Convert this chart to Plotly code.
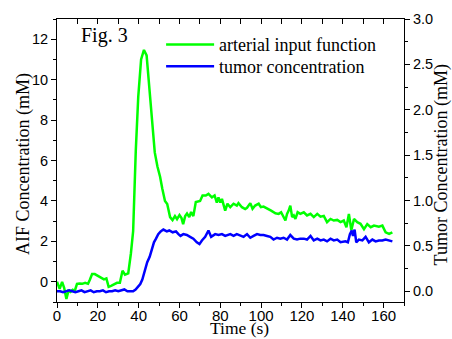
import plotly.graph_objects as go

# ---- data ----
t_aif = [0, 1.3, 2.5, 3.5, 4.6, 5.6, 6.6, 7.7, 8.7, 9.8, 11.0, 12.4, 13.8, 15.2, 16.1, 17.2, 18.5,
         19.5, 20.6, 21.8, 23.0, 24.2, 25.3, 26.5, 28.0, 29.4, 30.8, 32.1, 33.3, 34.9, 36.2, 37.3,
         38.6, 39.8, 41.2, 42.6, 43.9, 45.2, 46.5, 47.9, 49.2, 50.5, 51.6, 52.9, 54.0, 55.4, 56.6,
         57.8, 58.8, 60.0, 61.0, 61.8, 62.8, 63.7, 64.8, 65.7, 66.8, 68.0, 70.1, 71.3, 72.9, 74.2,
         75.9, 77.2, 78.3, 79.1, 80.0, 80.8, 82.4, 83.5, 84.9, 86.5, 88.1, 88.9, 90.6, 92.2, 93.1,
         94.7, 95.8, 97.1, 98.8, 99.9, 101.2, 102.9, 104.9, 107.0, 108.6, 109.8, 110.8, 111.9,
         112.7, 113.5, 114.3, 115.2, 116.0, 116.8, 117.9, 119.2, 120.9, 122.5, 124.2, 125.8,
         127.5, 129.1, 130.7, 132.3, 134.0, 135.6, 137.3, 138.9, 140.5, 141.8, 143.0, 144.2,
         145.5, 147.1, 148.7, 150.4, 152.0, 153.7, 155.3, 157.7, 159.4, 161.0, 162.7, 164.3]
aif = [0.0, -0.35, 0.0, -0.3, -0.85, -0.45, -0.5, -0.4, -0.45, -0.1, -0.08, -0.1, -0.05, -0.1,
       0.1, 0.38, 0.38, 0.33, 0.25, 0.2, 0.12, 0.17, -0.25, -0.2, -0.1, -0.05, -0.05, 0.55, 0.35,
       0.42, 1.4, 2.5, 6.5, 9.15, 11.0, 11.47, 11.2, 9.6, 8.0, 6.4, 5.7, 5.2, 4.6, 4.0, 3.85, 3.2,
       3.05, 3.25, 3.1, 3.3, 3.15, 2.85, 3.25, 3.38, 3.2, 3.45, 3.25, 3.95, 4.0, 4.27, 4.27, 4.35,
       4.18, 4.27, 3.92, 4.18, 3.92, 4.1, 3.52, 3.86, 3.69, 3.86, 3.77, 3.89, 3.69, 3.6, 3.66,
       3.89, 3.61, 3.77, 3.86, 3.69, 3.72, 3.61, 3.52, 3.39, 3.36, 3.44, 3.2, 3.03, 3.36, 3.52,
       3.77, 3.2, 3.28, 3.11, 3.44, 3.36, 3.44, 3.28, 3.36, 3.2, 3.36, 3.22, 3.26, 2.95, 3.11,
       3.03, 3.06, 2.95, 3.03, 2.7, 3.36, 2.55, 3.11, 2.95, 2.87, 2.6, 2.85, 2.7, 2.78, 2.73,
       2.78, 2.45, 2.37, 2.45]

t_tum = [0, 1.5, 3, 4.5, 6, 7.5, 9, 10.5, 12, 13.5, 15, 16.5, 18, 19.5, 21, 22.5, 24, 25.5, 27,
         28.5, 30, 31.5, 33, 34.5, 36, 37.3, 38.5, 39.8, 40.8, 41.8, 43.0, 44.2, 45.4, 46.4, 47.5,
         48.5, 49.6, 50.8, 52.1, 53.8, 55.0, 56.7, 58.3, 59.5, 60.5, 61.9, 63.6, 65.2, 66.8, 68.5,
         69.8, 71.0, 72.6, 74.2, 75.5, 77.5, 79.1, 80.8, 82.4, 84.9, 86.5, 88.1, 89.8, 91.4, 93.1,
         94.7, 96.3, 98.0, 99.6, 101.2, 102.9, 104.5, 106.1, 107.8, 109.4, 111.0, 112.7, 114.3,
         116.0, 117.6, 119.2, 120.9, 122.5, 124.2, 125.8, 127.5, 129.1, 130.7, 132.3, 134.0,
         135.6, 137.3, 138.9, 141.3, 142.5, 143.5, 144.4, 145.0, 145.8, 146.6, 147.9, 149.6,
         151.2, 152.8, 154.5, 156.1, 157.7, 159.4, 161.0, 162.7, 164.3]
tumor = [0.0, 0.0, -0.01, 0.0, 0.01, 0.0, -0.01, 0.0, 0.01, -0.01, 0.0, 0.01, -0.01, 0.0, 0.0,
         0.01, -0.01, 0.0, 0.0, 0.01, 0.0, 0.01, 0.02, 0.0, 0.0,
         0.0, 0.02, 0.05, 0.08, 0.13, 0.24, 0.32, 0.38, 0.47, 0.54, 0.58, 0.63, 0.66, 0.68, 0.66,
         0.67, 0.65, 0.66, 0.63, 0.61, 0.63, 0.62, 0.60, 0.58, 0.54, 0.52, 0.56, 0.60, 0.67, 0.60,
         0.63, 0.62, 0.63, 0.61, 0.63, 0.61, 0.63, 0.61, 0.60, 0.63, 0.59, 0.61, 0.63, 0.62, 0.62,
         0.61, 0.60, 0.57, 0.59, 0.58, 0.59, 0.57, 0.62, 0.58, 0.57, 0.58, 0.58, 0.57, 0.61, 0.56,
         0.58, 0.56, 0.57, 0.55, 0.58, 0.56, 0.57, 0.54, 0.55, 0.54, 0.63, 0.67, 0.61, 0.68, 0.54,
         0.57, 0.56, 0.60, 0.54, 0.57, 0.55, 0.56, 0.56, 0.57, 0.56, 0.55]

x_ticks = [0, 20, 40, 60, 80, 100, 120, 140, 160]
y_left_ticks = [0, 2, 4, 6, 8, 10, 12]
y_right_ticks = [0.0, 0.5, 1.0, 1.5, 2.0, 2.5, 3.0]

x_title = "Time (s)"
y_left_title = "AIF Concentration (mM)"
y_right_title = "Tumor Concentration (mM)"

SANS = "Liberation Sans, Arial, sans-serif"
SERIF = "Liberation Serif, Times New Roman, serif"

fig = go.Figure()
fig.add_trace(go.Scatter(x=t_aif, y=aif, mode="lines", name="arterial input function",
                         line=dict(color="#00FF00", width=2.5), xaxis="x", yaxis="y",
                         legend="legend"))
fig.add_trace(go.Scatter(x=t_tum, y=tumor, mode="lines", name="tumor concentration",
                         line=dict(color="#0000FF", width=2.5), xaxis="x", yaxis="y2",
                         legend="legend2"))

def axis_common(size):
    return dict(showline=True, linecolor="black", linewidth=1, showgrid=False,
                zeroline=False, ticks="outside", ticklen=5, tickwidth=1, tickcolor="black",
                automargin=False,
                tickfont=dict(family=SANS, size=size, color="black"))

legend_style = dict(xanchor="left", yanchor="middle", bgcolor="rgba(0,0,0,0)",
                    font=dict(family=SERIF, size=18, color="black"), borderwidth=0,
                    itemwidth=48)

title_font = dict(family=SERIF, size=18, color="black")

fig.update_layout(
    width=452, height=339,
    margin=dict(l=57, r=48, t=19, b=37),
    paper_bgcolor="white", plot_bgcolor="white",
    xaxis=dict(range=[0, 170], tickvals=x_ticks, ticklabelstandoff=-5,
               minor=dict(dtick=10, ticks="outside", ticklen=3, tickcolor="black"),
               **axis_common(15)),
    xaxis3=dict(range=[0, 170], overlaying="x", side="top", showline=True, linecolor="black",
                linewidth=1, ticks="inside", dtick=10, ticklen=5, tickcolor="black",
                showticklabels=False, showgrid=False, zeroline=False, anchor="y",
                automargin=False),
    yaxis=dict(range=[-1, 13], tickvals=y_left_ticks,
               minor=dict(dtick=1, ticks="outside", ticklen=3, tickcolor="black"),
               **axis_common(14.5)),
    yaxis2=dict(range=[-0.118, 3.0], tickvals=y_right_ticks, tickformat=".1f",
                overlaying="y", side="right", anchor="x",
                minor=dict(dtick=0.25, ticks="outside", ticklen=3, tickcolor="black"),
                **axis_common(14.5)),
    legend=dict(x=0.3, y=0.909, **legend_style),
    legend2=dict(x=0.3, y=0.832, **legend_style),
    showlegend=True,
    annotations=[
        dict(text="Fig. 3", x=0.062, y=0.942, xref="paper", yref="paper",
             xanchor="left", yanchor="middle", showarrow=False,
             font=dict(family=SERIF, size=20, color="black")),
        dict(text=x_title, x=0.527, y=-0.132, xref="paper", yref="paper",
             xanchor="center", yanchor="bottom", showarrow=False, borderpad=0,
             font=dict(family=SERIF, size=17.5, color="black")),
        dict(text=y_left_title, x=-0.095, y=0.488, xref="paper", yref="paper",
             xanchor="center", yanchor="middle", textangle=-90, showarrow=False,
             font=title_font),
        dict(text=y_right_title, x=1.107, y=0.483, xref="paper", yref="paper",
             xanchor="center", yanchor="middle", textangle=-90, showarrow=False,
             font=title_font),
    ],
)
# dummy trace to activate top axis
fig.add_trace(go.Scatter(x=[None], y=[None], xaxis="x3", yaxis="y", showlegend=False,
                         hoverinfo="skip"))

fig.write_html("out.html", config={"displayModeBar": False},
               post_script="document.body.style.margin='0';")
